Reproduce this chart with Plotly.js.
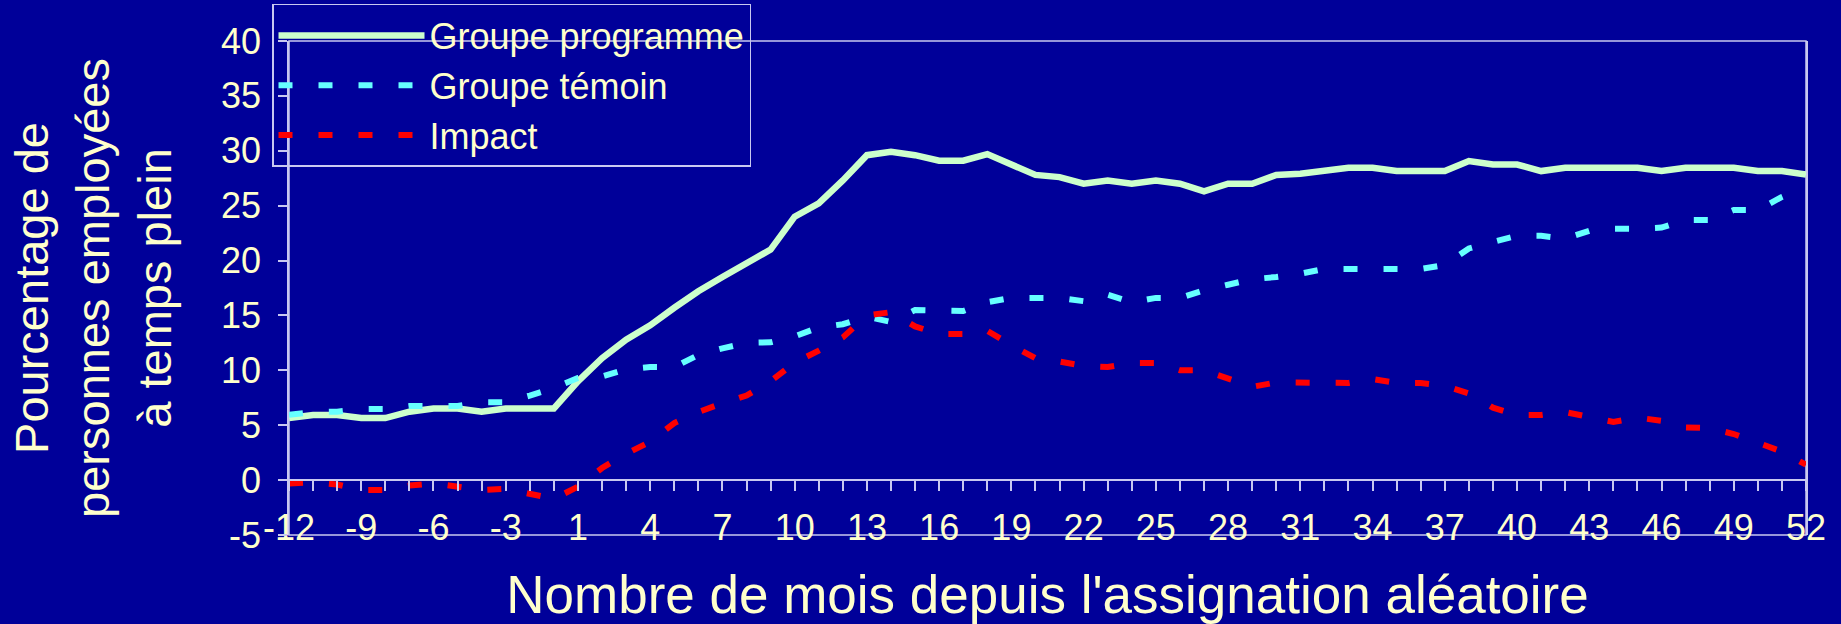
<!DOCTYPE html>
<html>
<head>
<meta charset="utf-8">
<script src="https://cdn.plot.ly/plotly-3.0.1.min.js"></script>
<style>html,body{margin:0;padding:0;background:#000099;}#chart{width:1841px;height:624px;}</style>
</head>
<body>
<div id="chart"></div>
<script>
// Months since random assignment (no month 0)
const months = [-12,-11,-10,-9,-8,-7,-6,-5,-4,-3,-2,-1,
  1,2,3,4,5,6,7,8,9,10,11,12,13,14,15,16,17,18,19,20,21,22,23,24,25,26,
  27,28,29,30,31,32,33,34,35,36,37,38,39,40,41,42,43,44,45,46,47,48,49,50,51,52];

const tickLabels = ['-12','-9','-6','-3','1','4','7','10','13','16','19','22','25',
  '28','31','34','37','40','43','46','49','52'];

const yTickVals = [-5,0,5,10,15,20,25,30,35,40];
const yTickLabels = ['-5','0','5','10','15','20','25','30','35','40'];

const groupeProgramme = [5.65,5.93,5.93,5.65,5.65,6.23,6.53,6.53,6.23,6.53,6.53,6.53,
  9.0,11.1,12.8,14.1,15.7,17.2,18.5,19.8,21.0,24.0,25.2,27.3,29.6,29.9,29.6,29.1,29.1,29.7,
  28.7,27.8,27.6,27.0,27.3,27.0,27.3,27.0,26.3,27.0,27.0,27.8,27.9,28.15,28.45,28.45,28.15,
  28.15,28.15,29.06,28.75,28.75,28.15,28.45,28.45,28.45,28.45,28.15,28.45,28.45,28.45,
  28.15,28.15,27.84];

const groupeTemoin = [5.95,6.2,6.23,6.47,6.47,6.75,6.75,6.75,7.1,7.1,7.7,8.4,
  9.3,9.45,10.1,10.3,10.3,11.4,12.0,12.5,12.55,13.1,13.9,14.2,14.9,14.4,15.5,15.44,15.4,16.2,
  16.6,16.6,16.6,16.3,16.9,16.2,16.6,16.6,17.3,17.8,18.3,18.5,18.8,19.24,19.24,19.24,19.24,
  19.24,19.6,21.1,21.7,22.25,22.25,22.0,22.7,22.9,22.9,23.0,23.7,23.7,24.6,24.6,25.8,26.7];

const impact = [-0.3,-0.2,-0.4,-0.9,-0.9,-0.5,-0.3,-0.65,-0.9,-0.8,-1.2,-1.7,
  -0.6,1.1,2.4,3.5,5.2,6.2,7.0,7.7,9.0,10.7,11.8,13.0,15.0,15.3,14.0,13.3,13.3,13.6,
  12.3,11.1,10.8,10.4,10.3,10.67,10.67,10.0,10.0,9.2,8.5,8.9,8.85,8.85,8.85,9.2,8.85,
  8.85,8.6,7.9,6.6,5.93,5.93,6.2,5.7,5.3,5.7,5.4,4.8,4.74,4.2,3.4,2.6,1.4];

const cats = months.map(String);
// a tick at every month, a label every third month
const tickText = cats.map(c => tickLabels.includes(c) ? c : '');

const axisColor = '#C8C8F0';
const textColor = '#FFFFCC';
const fontFam = 'Liberation Sans, Arial, Helvetica, sans-serif';

const traces = [
  {x: cats, y: groupeProgramme, name: 'Groupe programme', type: 'scatter', mode: 'lines',
   legendgroup: 'a', line: {color: '#CCFFCC', width: 6.5}},
  {x: cats, y: groupeTemoin, name: 'Groupe témoin', type: 'scatter', mode: 'lines',
   legendgroup: 'b', line: {color: '#66FFFF', width: 6, dash: '14px,26px'}},
  {x: cats, y: impact, name: 'Impact', type: 'scatter', mode: 'lines',
   legendgroup: 'c', line: {color: '#FF0000', width: 6, dash: '14px,26px'}}
];

const yMin = -5, yMax = 40;

const layout = {
  width: 1841, height: 624,
  paper_bgcolor: '#000099', plot_bgcolor: '#000099',
  font: {family: fontFam, color: textColor, size: 36},
  margin: {l: 289, r: 35, t: 41, b: 89, pad: 0, autoexpand: false},
  showlegend: true,
  legend: {
    x: -0.0112, y: 1.0749, xanchor: 'left', yanchor: 'top',
    bgcolor: 'rgba(0,0,0,0)', bordercolor: axisColor, borderwidth: 1.5,
    font: {family: fontFam, color: textColor, size: 36},
    itemwidth: 146, tracegroupgap: 4, traceorder: 'normal'
  },
  xaxis: {
    type: 'category', range: [0, cats.length - 1],
    anchor: 'free', position: (0 - yMin) / (yMax - yMin), side: 'bottom',
    tickmode: 'array', tickvals: cats, ticktext: tickText,
    ticks: 'outside', ticklen: 10, tickwidth: 1.5, tickcolor: axisColor,
    showline: true, linecolor: axisColor, linewidth: 1.5,
    showgrid: false, zeroline: false,
    tickfont: {family: fontFam, color: textColor, size: 36},
    ticklabelstandoff: 6,
    automargin: false,
    title: {text: "Nombre de mois depuis l'assignation aléatoire",
            font: {family: fontFam, color: textColor, size: 53}, standoff: 36}
  },
  yaxis: {
    range: [yMin, yMax], tickmode: 'array', tickvals: yTickVals, ticktext: yTickLabels,
    ticks: 'outside', ticklen: 9, tickwidth: 1.5, tickcolor: axisColor,
    showline: true, mirror: true, linecolor: axisColor, linewidth: 1.5,
    zeroline: false, showgrid: false,
    tickfont: {family: fontFam, color: textColor, size: 36},
    ticklabelstandoff: 10,
    automargin: false,
    title: {text: 'Pourcentage de<br>personnes employées<br>à temps plein',
            font: {family: fontFam, color: textColor, size: 47}, standoff: 35}
  },
  shapes: [
    {type: 'rect', xref: 'paper', yref: 'paper', x0: 0, x1: 1, y0: 0, y1: 1,
     line: {color: axisColor, width: 1.5}, fillcolor: 'rgba(0,0,0,0)', layer: 'below'}
  ]
};

Plotly.newPlot('chart', traces, layout, {displayModeBar: false, responsive: false});
</script>
</body>
</html>
